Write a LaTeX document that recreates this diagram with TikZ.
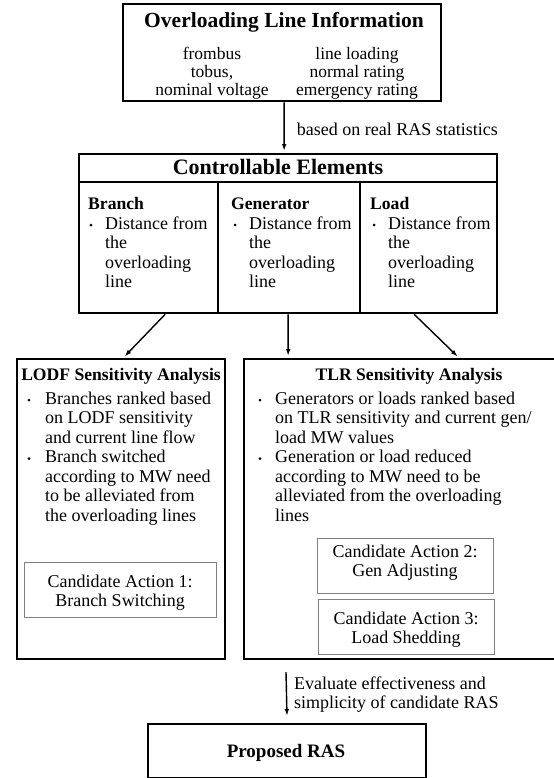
\documentclass[tikz,border=0pt]{standalone}
\usepackage{fontspec}
\setmainfont{Liberation Serif}
\usetikzlibrary{arrows.meta}

% text blocks: left aligned / centred, positioned by the first baseline
\newcommand{\lns}[1]{\begin{tabular}[t]{@{}l@{}}#1\end{tabular}}
\newcommand{\clns}[1]{\begin{tabular}[t]{@{}c@{}}#1\end{tabular}}
\renewcommand{\arraystretch}{1}

\newcommand{\bodyfont}{\fontsize{18bp}{19.5bp}\selectfont}
\newcommand{\infofont}{\fontsize{17.5bp}{17.8bp}\selectfont}
\newcommand{\headfont}{\fontsize{17.6bp}{19bp}\bfseries\selectfont}

\tikzset{
  box/.style={draw, line width=2.3bp, inner sep=0, anchor=north west},
  candbox/.style={draw=black!50, line width=1bp, inner sep=0, anchor=north west},
  txt/.style={inner sep=0, anchor=base west, font=\bodyfont},
  ctxt/.style={inner sep=0, anchor=base, font=\bodyfont},
  ttl/.style={inner sep=0, anchor=base},
  arr/.style={-{Latex[length=7bp,width=4.6bp]}, line width=1.4bp},
  bul/.style={circle, fill, inner sep=0, minimum size=3bp},
}

\begin{document}
\begin{tikzpicture}[x=1bp,y=-1bp]
\useasboundingbox (0,0) rectangle (554,778);
\clip (0,0) rectangle (554,778);

% ---------- overloading line information ----------
\node[box, minimum width=318bp, minimum height=97bp] (info) at (122,3) {};
\node[ttl, font=\fontsize{21.5bp}{24bp}\bfseries\selectfont] (infottl) at (284,28) {Overloading Line Information};
\node[ttl, font=\infofont] (infol) at (212,60) {\clns{frombus\\tobus,\\nominal voltage}};
\node[ttl, font=\infofont] (infor) at (357,60) {\clns{line loading\\normal rating\\emergency rating}};

% ---------- controllable elements ----------
\node[box, minimum width=418bp, minimum height=159bp] (ctrl) at (78,153) {};
\draw[line width=2.3bp] (78,182) -- (496,182);
\draw[line width=2.3bp] (218,182) -- (218,312);
\draw[line width=2.3bp] (360,182) -- (360,312);
\node[ttl, font=\fontsize{22bp}{24bp}\bfseries\selectfont] (ctrlttl) at (278,174) {Controllable Elements};

\node[ttl, anchor=base west, font=\headfont] (hbr) at (88,209) {Branch};
\node[ttl, anchor=base west, font=\headfont] (hgen) at (231,209) {Generator};
\node[ttl, anchor=base west, font=\headfont] (hld) at (370,209) {Load};
\foreach \x/\n in {105/br,249/gen,388/ld}{
  \node[bul] (b\n) at (\x-14,225) {};
  \node[txt] (d\n) at (\x,229) {\lns{Distance from\\the\\overloading\\line}};
}

% ---------- LODF sensitivity analysis ----------
\node[box, minimum width=208bp, minimum height=300bp] (lodf) at (16,358) {};
\node[ttl, font=\headfont] (lodfttl) at (121,380) {LODF Sensitivity Analysis};
\node[bul] (lb1) at (29,400) {};
\node[txt] (li1) at (45,404) {\lns{Branches ranked based\\on LODF sensitivity\\and current line flow}};
\node[bul] (lb2) at (29,458.5) {};
\node[txt] (li2) at (45,462.5) {\lns{Branch switched\\according to MW need\\to be alleviated from\\the overloading lines}};
\node[candbox, minimum width=192bp, minimum height=55bp] (c1) at (24,562) {};
\node[ctxt] (c1t) at (120,587) {\clns{Candidate Action 1:\\Branch Switching}};

% ---------- TLR sensitivity analysis ----------
\node[box, minimum width=332bp, minimum height=300bp] (tlr) at (243,358) {};
\node[ttl, font=\headfont] (tlrttl) at (409,380) {TLR Sensitivity Analysis};
\node[bul] (tb1) at (260,400) {};
\node[txt] (ti1) at (275,404) {\lns{Generators or loads ranked based\\on TLR sensitivity and current gen/\\load MW values}};
\node[bul] (tb2) at (260,458.5) {};
\node[txt] (ti2) at (275,462.5) {\lns{Generation or load reduced\\according to MW need to be\\alleviated from the overloading\\lines}};
\node[candbox, minimum width=176bp, minimum height=55bp] (c2) at (317,538) {};
\node[ctxt] (c2t) at (405,557) {\clns{Candidate Action 2:\\Gen Adjusting}};
\node[candbox, minimum width=176bp, minimum height=55bp] (c3) at (318,599) {};
\node[ctxt] (c3t) at (406,624) {\clns{Candidate Action 3:\\Load Shedding}};

% ---------- proposed RAS ----------
\node[box, minimum width=278bp, minimum height=54bp] (ras) at (147,723) {};
\node[ttl, font=\fontsize{19bp}{21bp}\bfseries\selectfont] (rasttl) at (286,757) {Proposed RAS};

% ---------- connectors ----------
\draw[arr, shorten >=2bp] ([xshift=2bp]info.south) -- ([xshift=-4bp]ctrl.north)
  node[txt, pos=0.5, anchor=west, xshift=12bp, yshift=-2bp] (lbl1) {based on real RAS statistics};
\draw[arr, shorten >=2bp] ([xshift=-123bp]ctrl.south) -- ([xshift=2bp]lodf.north);
\draw[arr, shorten >=2bp] (ctrl.south) -- ([xshift=-122bp]tlr.north);
\draw[arr, shorten >=2bp] ([xshift=126bp]ctrl.south) -- ([xshift=49bp]tlr.north);

\coordinate (evaltop) at (286,672);
\draw[arr, shorten >=7bp] (evaltop) -- (ras.north);
\node[txt] (lbl2) at (294,689) {\lns{Evaluate effectiveness and\\simplicity of candidate RAS}};
\end{tikzpicture}
\end{document}
